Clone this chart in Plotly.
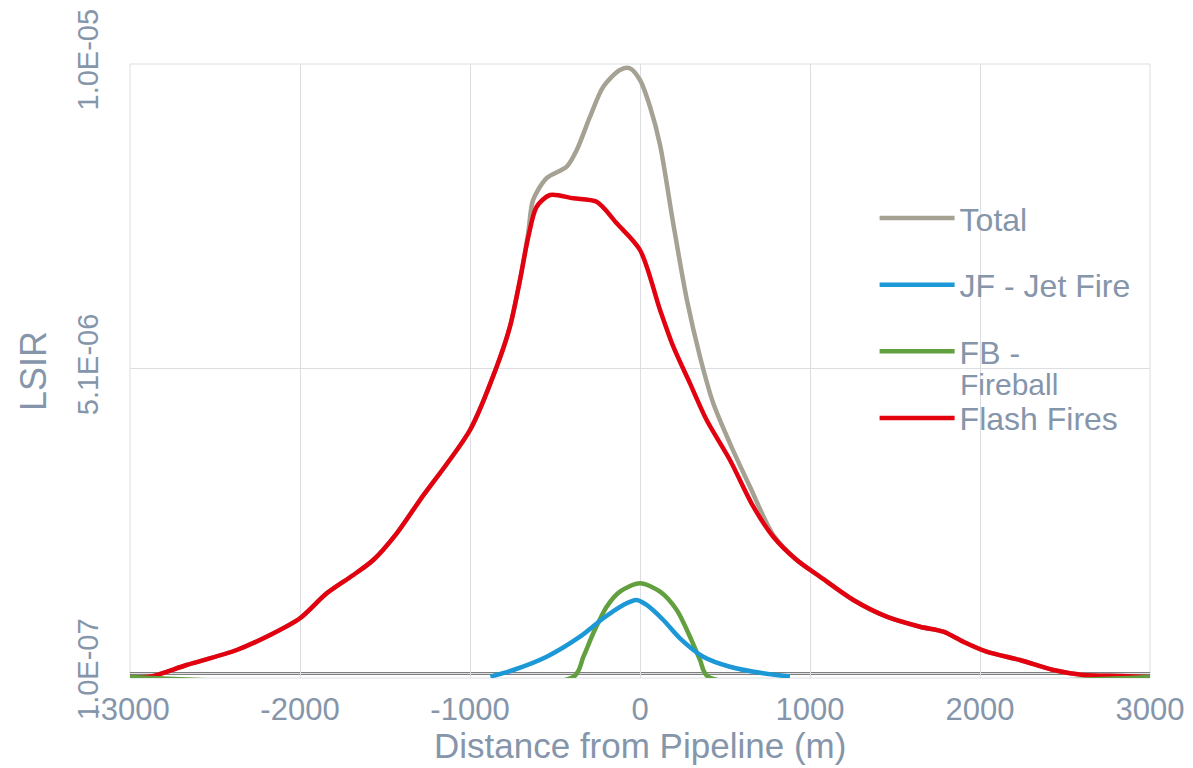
import plotly.graph_objects as go

# ---------------- data ----------------
flash_x = [-3000, -2880, -2667, -2372, -2176, -2000, -1843, -1686, -1569, -1431, -1294,
           -1000, -843, -765, -706, -657, -608, -529, -392, -255, -137, 0, 118, 196, 294, 392,
           529, 667, 784, 922, 1059, 1255, 1451, 1647, 1784, 1902, 2039, 2235, 2431, 2608,
           2824, 3000]
flash_y = [0.045e-6, 0.05e-6, 0.238e-6, 0.482e-6, 0.725e-6, 0.997e-6, 1.402e-6, 1.700e-6,
           1.944e-6, 2.377e-6, 2.918e-6, 4.055e-6, 5.083e-6, 5.733e-6, 6.492e-6,
           7.195e-6, 7.682e-6, 7.872e-6, 7.818e-6, 7.763e-6, 7.413e-6, 6.979e-6, 6.005e-6,
           5.408e-6, 4.813e-6, 4.217e-6, 3.568e-6, 2.809e-6, 2.322e-6, 1.944e-6, 1.672e-6,
           1.294e-6, 1.023e-6, 0.860e-6, 0.779e-6, 0.616e-6, 0.454e-6, 0.319e-6, 0.157e-6,
           0.076e-6, 0.06e-6, 0.045e-6]

total_x = [-3000, -2880, -2667, -2372, -2176, -2000, -1843, -1686, -1569, -1431, -1294,
           -1000, -843, -765, -706, -657, -629, -549, -431, -372, -294, -216, -118, -59, 0, 59,
           118, 194, 276, 353, 431, 529, 647, 784, 922, 1059, 1255, 1451, 1647, 1784, 1902,
           2039, 2235, 2431, 2608, 2824, 3000]
total_y = [0.045e-6, 0.05e-6, 0.238e-6, 0.482e-6, 0.725e-6, 0.997e-6, 1.402e-6, 1.700e-6,
           1.944e-6, 2.377e-6, 2.918e-6, 4.055e-6, 5.083e-6, 5.733e-6, 6.492e-6,
           7.27e-6, 7.790e-6, 8.148e-6, 8.332e-6, 8.603e-6, 9.144e-6, 9.631e-6, 9.902e-6,
           9.930e-6, 9.740e-6, 9.306e-6, 8.683e-6, 7.433e-6, 6.166e-6, 5.246e-6, 4.489e-6,
           3.839e-6, 3.134e-6, 2.35e-6, 1.944e-6, 1.672e-6, 1.294e-6, 1.023e-6, 0.860e-6,
           0.779e-6, 0.616e-6, 0.454e-6, 0.319e-6, 0.157e-6, 0.076e-6, 0.06e-6, 0.045e-6]

jet_x = [-880, -745, -549, -353, -216, -98, -20, 39, 137, 235, 372, 529, 725, 882]
jet_y = [0.05e-6, 0.157e-6, 0.373e-6, 0.698e-6, 0.997e-6, 1.213e-6, 1.294e-6, 1.213e-6,
         0.969e-6, 0.672e-6, 0.373e-6, 0.210e-6, 0.103e-6, 0.05e-6]

fireball_x = [-3000, -392, -333, -275, -196, -118, 0, 118, 216, 294, 353, 402, 3000]
fireball_y = [0.045e-6, 0.045e-6, 0.373e-6, 0.753e-6, 1.185e-6, 1.429e-6, 1.565e-6, 1.429e-6,
              1.131e-6, 0.698e-6, 0.319e-6, 0.045e-6, 0.045e-6]

x_ticks = [-3000, -2000, -1000, 0, 1000, 2000, 3000]
y_tickvals = [1.0e-7, 5.05e-6, 1.0e-5]
y_ticktext = ["1.0E-07", "5.1E-06", "1.0E-05"]

# legend labels; the Fireball label wraps onto a second line in the original
series_names = ["Total", "JF - Jet Fire", "FB -", "Flash Fires"]
fireball_wrap = "Fireball"
series_colors = ["#a5a293", "#1b98d5", "#62a03f", "#e3000f"]
x_title = "Distance from Pipeline (m)"
y_title = "LSIR"

TEXT = "#8595aa"
GRID = "#dcdee2"
FONT = "Liberation Sans, Arial, sans-serif"

series = [(total_x, total_y), (jet_x, jet_y), (fireball_x, fireball_y), (flash_x, flash_y)]
draw_order = [0, 3, 2, 1]  # total under flash fires, as in the original

fig = go.Figure()
for i in draw_order:
    xs, ys = series[i]
    fig.add_trace(go.Scatter(
        x=xs, y=ys, mode="lines", name=series_names[i],
        legendrank=i + 1, legendgroup=f"g{i}",
        line=dict(color=series_colors[i], width=4.5, shape="spline", smoothing=0.8),
        hoverinfo="skip",
    ))

# plot-area frame in grid colour (edge gridlines) and the black base line
fig.add_shape(type="rect", xref="paper", yref="paper", x0=0, x1=1, y0=0, y1=1,
              line=dict(color=GRID, width=1), layer="below")
fig.add_shape(type="line", xref="paper", x0=0, x1=1, yref="y", y0=y_tickvals[0], y1=y_tickvals[0],
              line=dict(color="black", width=2), layer="below")

fig.add_annotation(text=fireball_wrap, xref="paper", yref="paper", x=0.8118, y=0.478,
                   xanchor="left", yanchor="middle", showarrow=False,
                   font=dict(size=30, color=TEXT, family=FONT))
fig.add_annotation(text=x_title, xref="paper", yref="paper", x=0.5, y=-0.110,
                   xanchor="center", yanchor="middle", showarrow=False,
                   font=dict(size=35, color=TEXT, family=FONT))

fig.update_layout(
    width=1185, height=760,
    margin=dict(l=122, r=43, t=56, b=90, autoexpand=False),
    paper_bgcolor="white", plot_bgcolor="white",
    font=dict(family=FONT, color=TEXT),
    showlegend=True,
    legend=dict(
        x=0.730, y=0.7935, xanchor="left", yanchor="top",
        font=dict(size=32, color=TEXT, family=FONT),
        bgcolor="rgba(0,0,0,0)", tracegroupgap=22, valign="middle",
        itemwidth=75, traceorder="grouped",
    ),
    xaxis=dict(
        range=[-3000, 3000], tickvals=x_ticks, ticktext=[str(v) for v in x_ticks],
        showgrid=True, gridcolor=GRID, gridwidth=1,
        zeroline=False, showline=False, automargin=False,
        tickfont=dict(size=31, color=TEXT, family=FONT),
        ticks="", ticklabelstandoff=10, ticklabeloverflow="allow",
    ),
    yaxis=dict(
        range=[2.7e-8, 1.00001e-5], tickvals=y_tickvals, ticktext=y_ticktext,
        tickangle=-90, showgrid=True, gridcolor=GRID, gridwidth=1,
        zeroline=False, showline=False, automargin=False,
        tickfont=dict(size=29, color=TEXT, family=FONT),
        ticks="", ticklabelstandoff=25, ticklabeloverflow="allow",
        title=dict(text=y_title, font=dict(size=36, color=TEXT, family=FONT), standoff=14),
    ),
)

fig.write_html("out.html")
